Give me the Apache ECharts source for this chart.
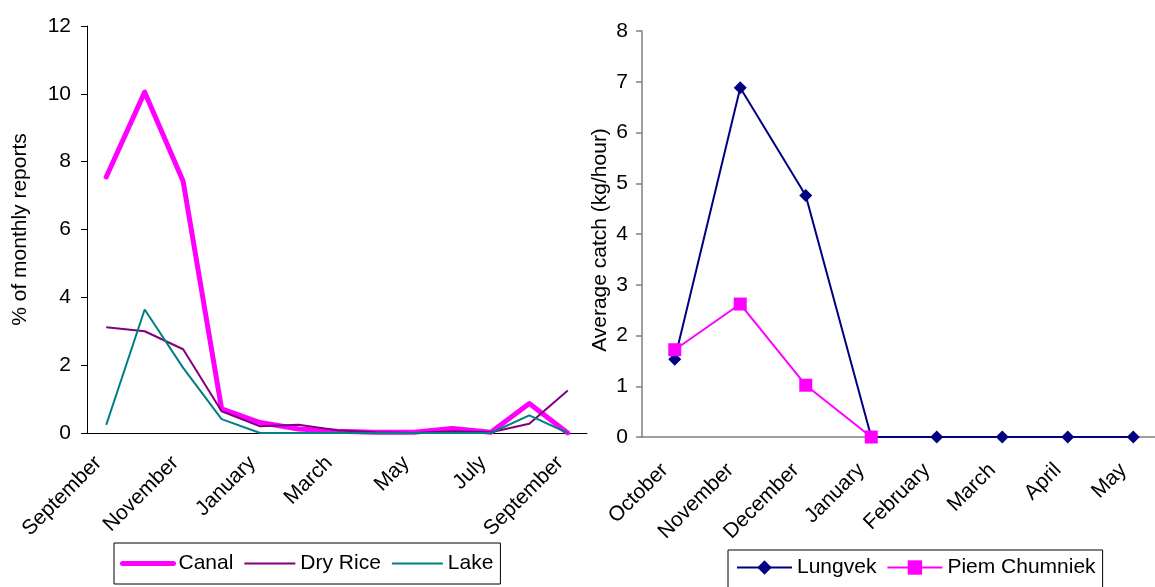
<!DOCTYPE html>
<html>
<head>
<meta charset="utf-8">
<style>
  html, body { margin: 0; padding: 0; background: #fff; overflow: hidden; }
  /* canvas runs a little past the right edge so the last category can be cut off */
  #chart { width: 1170px; height: 587px; }
</style>
<script src="https://cdn.jsdelivr.net/npm/echarts@6/dist/echarts.min.js"></script>
</head>
<body>
<div id="chart"></div>
<script>
// Left panel: share of monthly reports by habitat, September to September
const monthsLeft = ['September', 'October', 'November', 'December', 'January', 'February',
  'March', 'April', 'May', 'June', 'July', 'August', 'September'];
const canal = [7.55, 10.05, 7.42, 0.71, 0.31, 0.12, 0.05, 0.02, 0.02, 0.13, 0.02, 0.87, 0];
const dryRice = [3.12, 3.0, 2.47, 0.64, 0.2, 0.24, 0.08, 0.02, 0, 0.05, 0.02, 0.27, 1.25];
const lake = [0.24, 3.64, 1.92, 0.41, 0, 0, 0, 0, 0, 0, 0, 0.52, 0];

// Right panel: average catch per hour at two sites
const monthsRight = ['October', 'November', 'December', 'January', 'February', 'March', 'April', 'May'];
const lungvek = [1.53, 6.88, 4.76, 0, 0, 0, 0, 0];
const piemChumniek = [1.72, 2.62, 1.02, 0, null, null, null, null];

const FONT = 'Liberation Sans, Arial, sans-serif';
const txt = { color: '#000', fontFamily: FONT, fontSize: 21 };

const chart = echarts.init(document.getElementById('chart'), null, { renderer: 'canvas' });

// legend entries for the line-only series: hide the marker, keep the stroke
const lineOnly = (name, width) => ({ name, itemStyle: { opacity: 0 }, lineStyle: { width } });

chart.setOption({
  animation: false,
  backgroundColor: '#fff',
  textStyle: { fontFamily: FONT },
  grid: [
    { left: 87, width: 500, top: 26, height: 407 },
    { left: 642, width: 524, top: 31, height: 406 }
  ],
  legend: [
    {
      left: 114, top: 543,
      data: [lineOnly('Canal', 5), lineOnly('Dry Rice', 2), lineOnly('Lake', 2)],
      itemWidth: 51, itemHeight: 14, itemGap: 10,
      padding: [10, 7, 10, 6],
      borderColor: '#000', borderWidth: 1,
      textStyle: txt
    },
    {
      left: 728, top: 550,
      data: ['Lungvek', 'Piem Chumniek'],
      itemWidth: 55, itemHeight: 18, itemGap: 10,
      padding: [7, 7, 10, 8],
      borderColor: '#000', borderWidth: 1,
      textStyle: txt
    }
  ],
  xAxis: [
    {
      type: 'category', gridIndex: 0, data: monthsLeft, boundaryGap: true,
      axisLine: { lineStyle: { color: '#000', width: 1 } },
      axisTick: { length: 6, interval: 0, lineStyle: { color: '#000' } },
      axisLabel: Object.assign({ interval: 1, rotate: 45, margin: 19, padding: [0, 11, 0, 0] }, txt),
      splitLine: { show: false }
    },
    {
      type: 'category', gridIndex: 1, data: monthsRight, boundaryGap: true,
      axisLine: { lineStyle: { color: '#808080', width: 1.5 } },
      axisTick: { length: 6, interval: 0, lineStyle: { color: '#808080', width: 1.5 } },
      axisLabel: Object.assign({ interval: 0, rotate: 45, margin: 20, padding: [0, 14, 0, 0] }, txt),
      splitLine: { show: false }
    }
  ],
  yAxis: [
    {
      type: 'value', gridIndex: 0, min: 0, max: 12, interval: 2,
      name: '% of monthly reports', nameLocation: 'middle', nameGap: 56, nameRotate: 90,
      nameTextStyle: txt,
      axisLine: { show: true, lineStyle: { color: '#000', width: 1 } },
      axisTick: { show: true, length: 6, lineStyle: { color: '#000' } },
      axisLabel: Object.assign({ margin: 16 }, txt),
      splitLine: { show: false }
    },
    {
      type: 'value', gridIndex: 1, min: 0, max: 8, interval: 1,
      name: 'Average catch (kg/hour)', nameLocation: 'middle', nameGap: 31, nameRotate: 90,
      nameTextStyle: Object.assign({ padding: [0, 12, 0, 0] }, txt),
      axisLine: { show: true, lineStyle: { color: '#808080', width: 1.5 } },
      axisTick: { show: true, length: 6, lineStyle: { color: '#808080', width: 1.5 } },
      axisLabel: Object.assign({ margin: 14 }, txt),
      splitLine: { show: false }
    }
  ],
  series: [
    {
      name: 'Canal', type: 'line', xAxisIndex: 0, yAxisIndex: 0, data: canal,
      symbol: 'none', color: '#ff00ff',
      lineStyle: { color: '#ff00ff', width: 5, cap: 'round', join: 'round' }
    },
    {
      name: 'Dry Rice', type: 'line', xAxisIndex: 0, yAxisIndex: 0, data: dryRice,
      symbol: 'none', color: '#800080',
      lineStyle: { color: '#800080', width: 2 }
    },
    {
      name: 'Lake', type: 'line', xAxisIndex: 0, yAxisIndex: 0, data: lake,
      symbol: 'none', color: '#008080',
      lineStyle: { color: '#008080', width: 2 }
    },
    {
      name: 'Lungvek', type: 'line', xAxisIndex: 1, yAxisIndex: 1, data: lungvek,
      symbol: 'diamond', symbolSize: 13, showAllSymbol: true, color: '#000080',
      itemStyle: { color: '#000080' },
      lineStyle: { color: '#000080', width: 2 }
    },
    {
      name: 'Piem Chumniek', type: 'line', xAxisIndex: 1, yAxisIndex: 1, data: piemChumniek,
      symbol: 'rect', symbolSize: 13, showAllSymbol: true, color: '#ff00ff',
      itemStyle: { color: '#ff00ff' },
      lineStyle: { color: '#ff00ff', width: 2 }
    }
  ]
});
</script>
</body>
</html>
